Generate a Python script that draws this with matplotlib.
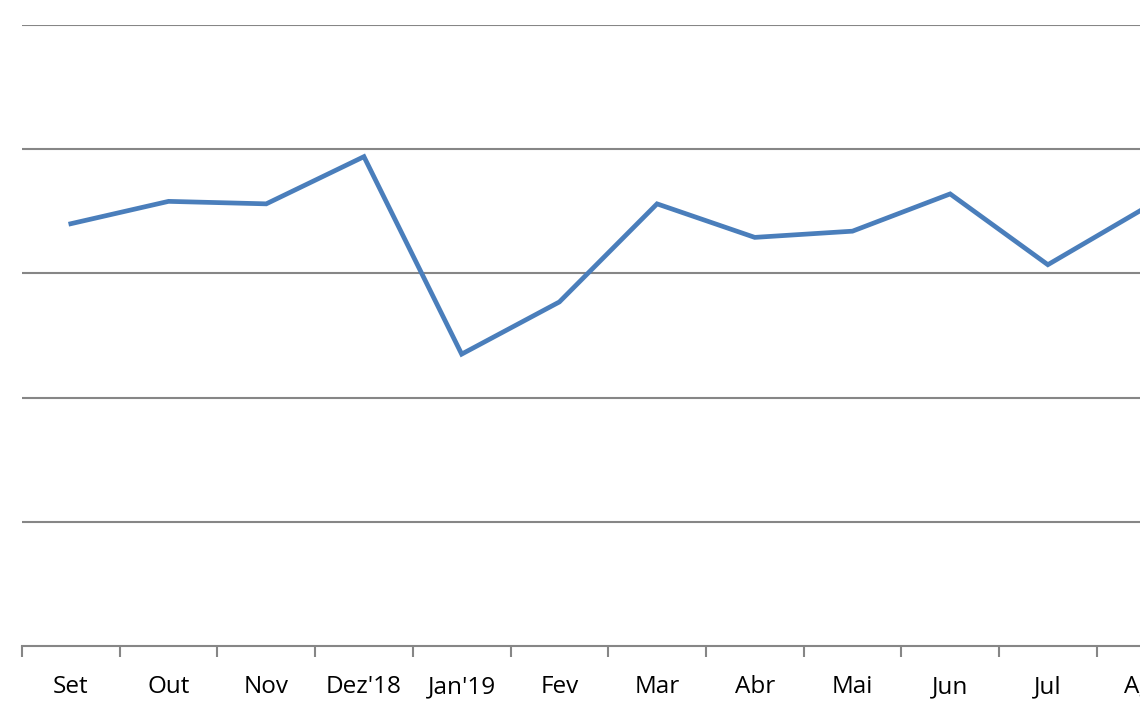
import matplotlib
matplotlib.use("Agg")
import matplotlib.pyplot as plt
import numpy as np

months = ["Set", "Out", "Nov", "Dez'18", "Jan'19", "Fev", "Mar", "Abr", "Mai", "Jun", "Jul", "Ago"]
values = [3.40, 3.58, 3.56, 3.94, 2.35, 2.77, 3.56, 3.29, 3.34, 3.64, 3.07, 3.53]
grid_levels = [0, 1, 2, 3, 4, 5]

fig = plt.figure(figsize=(11.4, 7.14), dpi=100)
W, H = 1140, 714
left, right, top, bottom = 22, 22 + 12 * 97.7, 25, 646
ax = fig.add_axes([left / W, (H - bottom) / H, (right - left) / W, (bottom - top) / H])

x = np.arange(len(months))
ax.plot(x, values, color="#4A7EBB", lw=3.4, solid_joinstyle="miter", zorder=3, clip_on=False)

ax.set_xlim(-0.5, len(months) - 0.5)
ax.set_ylim(0, 5)
for g in grid_levels[1:]:
    ax.axhline(g, color="#868686", lw=1.5, zorder=1)

for s in ["top", "right", "left"]:
    ax.spines[s].set_visible(False)
ax.spines["bottom"].set_color("#868686")
ax.spines["bottom"].set_linewidth(1.5)

ax.set_yticks([])
ax.set_xticks(x)
ax.set_xticklabels(months, fontsize=17.5, family=["Open Sans", "DejaVu Sans"], color="black")
ax.tick_params(axis="x", which="major", length=0, pad=21)
ax.set_xticks(np.arange(-0.5, len(months), 1), minor=True)
ax.tick_params(axis="x", which="minor", length=8, width=1.5, color="#868686", direction="out")

fig.savefig("out.png", dpi=100)
